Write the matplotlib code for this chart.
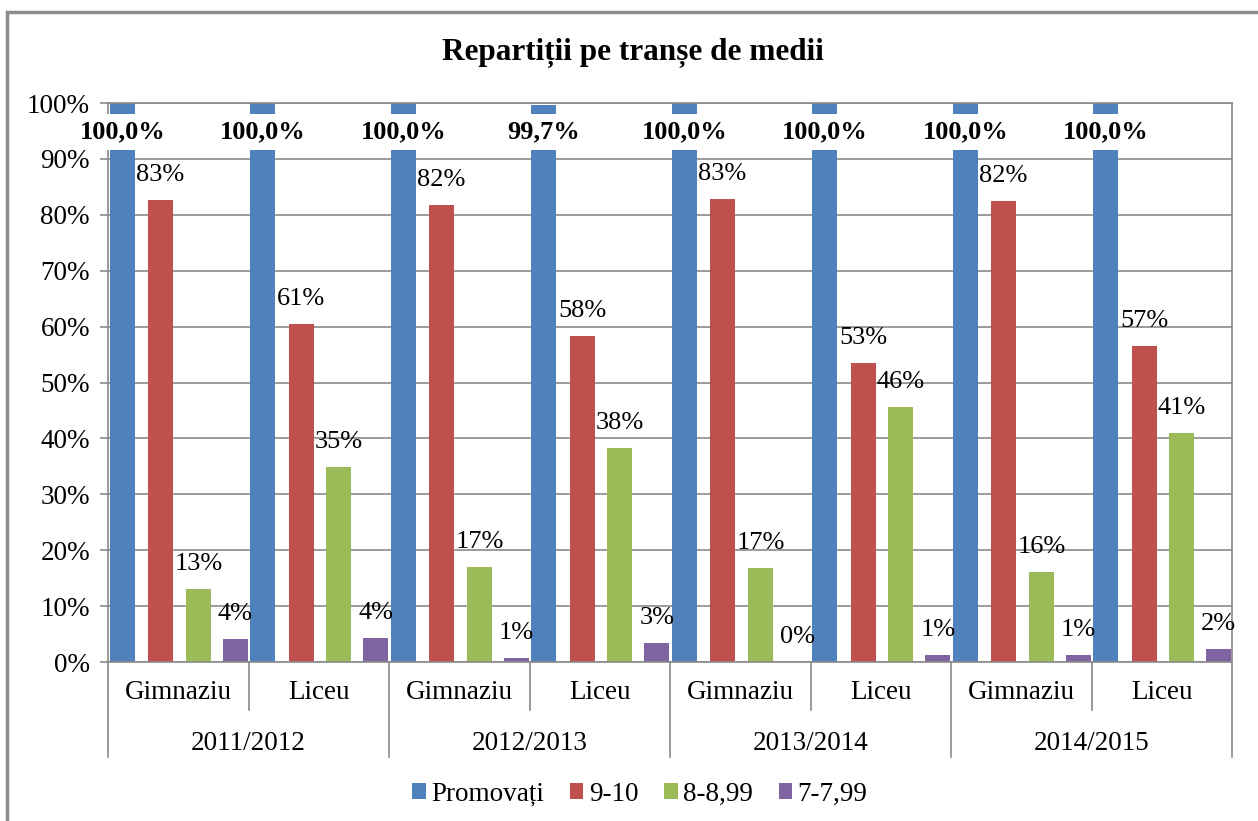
import matplotlib.pyplot as plt
import matplotlib.patches as patches
import matplotlib.transforms as mtransforms
import numpy as np

plt.rcParams['font.family'] = ['Liberation Serif', 'DejaVu Serif']

# date
ani = ["2011/2012", "2012/2013", "2013/2014", "2014/2015"]
tip = ["Gimnaziu", "Liceu"]
serii = ["Promovați", "9-10", "8-8,99", "7-7,99"]
promovati = [100.0, 100.0, 100.0, 99.7, 100.0, 100.0, 100.0, 100.0]
medii_9_10 = [82.7, 60.5, 81.8, 58.3, 82.9, 53.4, 82.4, 56.6]
medii_8_9 = [13.1, 34.9, 17.0, 38.3, 16.8, 45.6, 16.1, 40.9]
medii_7_8 = [4.1, 4.3, 0.7, 3.4, 0.0, 1.2, 1.2, 2.4]
etichete_9_10 = ["83%", "61%", "82%", "58%", "83%", "53%", "82%", "57%"]
etichete_8_9 = ["13%", "35%", "17%", "38%", "17%", "46%", "16%", "41%"]
etichete_7_8 = ["4%", "4%", "1%", "3%", "0%", "1%", "1%", "2%"]

culori = ["#4F81BD", "#C0504D", "#9BBB59", "#8064A2"]
gri = "#8a8a8a"
fs = 19.5

fig = plt.figure(figsize=(12.58, 8.21), dpi=100)
ax = fig.add_axes([108/1258, 1 - 662/821, 1124/1258, 559/821])

n = len(promovati)
x = np.arange(n)
offs = [0.103, 0.374, 0.644, 0.907]
w = 0.178

valori = [promovati, medii_9_10, medii_8_9, medii_7_8]
etichete = [None, etichete_9_10, etichete_8_9, etichete_7_8]

for k in range(4):
    v = np.array(valori[k]) / 100
    ax.bar(x + offs[k], v, width=w, color=culori[k], label=serii[k], zorder=2)
    if k == 0:
        for i in range(n):
            txt = ("%.1f%%" % valori[k][i]).replace(".", ",")
            ax.text(x[i] + offs[k], 0.948, txt, ha='center', va='center',
                    fontsize=19, fontweight='bold', zorder=4,
                    bbox=dict(boxstyle='square,pad=0.26', fc='white', ec='none'))
    else:
        for i in range(n):
            ax.annotate(etichete[k][i], (x[i] + offs[k], v[i]), xytext=(0, 18),
                        textcoords='offset points', ha='center', va='center',
                        fontsize=19, zorder=5)

ax.set_xlim(0, n)
ax.set_ylim(0, 1)
ax.set_yticks(np.arange(0, 1.01, 0.1))
ax.set_yticklabels(["%d%%" % round(t * 100) for t in np.arange(0, 1.01, 0.1)])
ax.tick_params(axis='y', labelsize=fs, length=6, pad=7, color=gri, width=1.2)
ax.set_xticks([])
ax.yaxis.grid(True, color=gri, lw=1.2, zorder=0)
ax.set_axisbelow(True)
for s in ['left', 'bottom', 'right', 'top']:
    ax.spines[s].set_color(gri)
    ax.spines[s].set_linewidth(1.2)

# axa categoriilor pe doua niveluri
tr = mtransforms.blended_transform_factory(ax.transData, ax.transAxes)
for i in range(n + 1):
    jos = -0.170 if i % 2 == 0 else -0.086
    ax.plot([i, i], [0, jos], color=gri, lw=1.2, transform=tr, clip_on=False)
for i in range(n):
    ax.text(i + 0.5, -0.054, tip[i % 2], ha='center', va='center', fontsize=fs,
            transform=tr)
for j in range(len(ani)):
    ax.text(2 * j + 1, -0.146, ani[j], ha='center', va='center', fontsize=fs,
            transform=tr)

fig.text(0.503, 1 - 53/821, "Repartiții pe tranșe de medii", ha='center', va='center',
         fontsize=22.5, fontweight='bold')

fig.legend(loc='center', bbox_to_anchor=(0.5087, 1 - 794/821), ncol=4, frameon=False,
           fontsize=fs, handlelength=0.5, handleheight=0.5, handletextpad=0.2,
           columnspacing=0.95)

# chenar exterior
fig.patches.append(patches.Rectangle((7/1258, -0.1), 1.2, 1.1 - 12/821, transform=fig.transFigure,
                                     fill=False, ec="#8c8c8c", lw=2.5))

fig.savefig("out.png", dpi=100)
